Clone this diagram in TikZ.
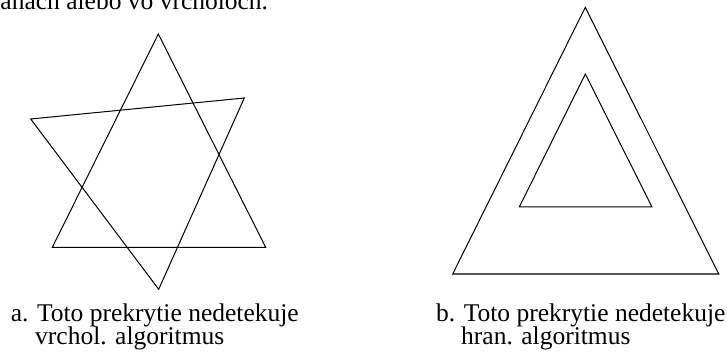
\documentclass[tikz,border=0pt]{standalone}
\usepackage{fontspec}
\setmainfont{Liberation Serif}

\begin{document}
\begin{tikzpicture}[
  x=1pt,
  y=-1pt,
  every node/.style={font=\fontsize{25.5}{22.3}\selectfont, inner sep=0pt, anchor=base west},
  outline/.style={black, line width=1pt, line join=miter}
]
  \useasboundingbox (0,0) rectangle (727,352);
  \clip (0,0) rectangle (727,352);

  \node (prevline) at (-21,10) {hranách alebo vo vrcholoch.};

  % hviezda
  \draw[outline] (158.3,34) -- (52.3,247.3) -- (265.7,247.3) -- cycle;
  \draw[outline] (30.7,119) -- (244.3,98) -- (158.7,289.3) -- cycle;

  % vnorene trojuholniky
  \draw[outline] (585.3,7.3) -- (452.7,274) -- (718.7,274) -- cycle;
  \draw[outline] (585.3,74) -- (519.3,207) -- (652,207) -- cycle;

  \node (capa) at (10.7,321.7) {a. Toto prekrytie nedetekuje};
  \node (capa2) at (35,344) {vrchol. algoritmus};
  \node (capb) at (436,321.7) {b. Toto prekrytie nedetekuje};
  \node (capb2) at (461,344) {hran. algoritmus};
\end{tikzpicture}
\end{document}
